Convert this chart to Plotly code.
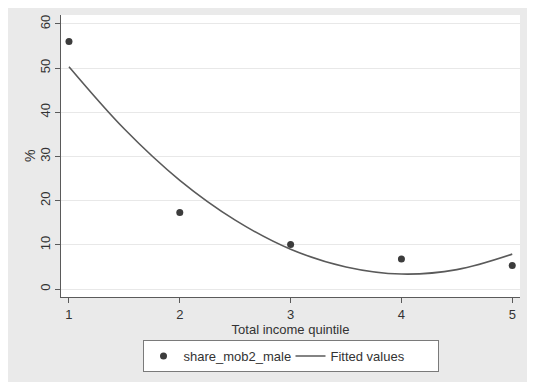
import plotly.graph_objects as go

quintiles = [1, 2, 3, 4, 5]
share_mob2_male = [56.0, 17.3, 10.1, 6.8, 5.3]

# Fitted (quadratic fit) curve values
fit_x = [1, 1.5, 2, 2.5, 3, 3.5, 4, 4.5, 5]
fit_y = [50.3, 36.2, 24.6, 15.6, 9.0, 5.0, 3.4, 4.4, 7.9]

y_ticks = [0, 10, 20, 30, 40, 50, 60]
x_ticks = [1, 2, 3, 4, 5]

FONT = "Liberation Sans, Arial, sans-serif"
AXIS_COL = "#5a5a5a"
TXT = "#333333"

fig = go.Figure()
fig.add_trace(go.Scatter(
    x=quintiles, y=share_mob2_male, mode="markers", name="share_mob2_male",
    marker=dict(color="#3c3c3c", size=7),
))
fig.add_trace(go.Scatter(
    x=fit_x, y=fit_y, mode="lines", name="Fitted values",
    line=dict(color="#5a5a5a", width=1.6, shape="spline", smoothing=1.0),
))

# page body has an 8px margin, so figure pixel = window pixel - 8
OFF = 8
W, H = 535, 382
L, T = 61 - OFF, 15 - OFF
R = W - (520 - OFF)
B = H - (297 - OFF)
pw, ph = W - L - R, H - T - B

def px_x(p):
    return (p - OFF - L) / pw

def px_y(p):
    # window pixel -> paper fraction
    return (H - B - (p - OFF)) / ph

fig.update_layout(
    width=W, height=H,
    margin=dict(l=L, r=R, t=T, b=B, autoexpand=False),
    paper_bgcolor="#eaeaea",
    plot_bgcolor="white",
    font=dict(family=FONT, size=13, color=TXT),
    showlegend=True,
    legend=dict(
        orientation="h", x=0.5, xanchor="center", y=px_y(340), yanchor="top",
        bgcolor="white", bordercolor="#7a7a7a", borderwidth=1,
        font=dict(size=13, color=TXT),
        itemwidth=30, entrywidth=102,
    ),
    annotations=[dict(
        text="%", xref="paper", yref="paper", x=px_x(30), y=0.5,
        xanchor="center", yanchor="middle", textangle=-90, showarrow=False,
        font=dict(size=14, color=TXT),
    )],
    xaxis=dict(
        range=[0.928, 5.07], tickvals=x_ticks, ticktext=[str(v) for v in x_ticks],
        showgrid=False, zeroline=False, automargin=False,
        showline=True, linecolor=AXIS_COL, linewidth=1.2,
        ticks="outside", ticklen=5, tickcolor=AXIS_COL, tickwidth=1,
        tickfont=dict(size=13, color=TXT),
        title=dict(text="Total income quintile", font=dict(size=13, color=TXT), standoff=0),
    ),
    yaxis=dict(
        range=[-1.8, 62], tickvals=y_ticks, ticktext=[str(v) for v in y_ticks],
        showgrid=True, gridcolor="#e8e8e8", gridwidth=1, zeroline=False, automargin=False,
        showline=True, linecolor=AXIS_COL, linewidth=1.2,
        ticks="outside", ticklen=5, tickcolor=AXIS_COL, tickwidth=1,
        tickangle=-90, tickfont=dict(size=13, color=TXT),
    ),
)

fig.write_html("out.html", config={"displayModeBar": False})
